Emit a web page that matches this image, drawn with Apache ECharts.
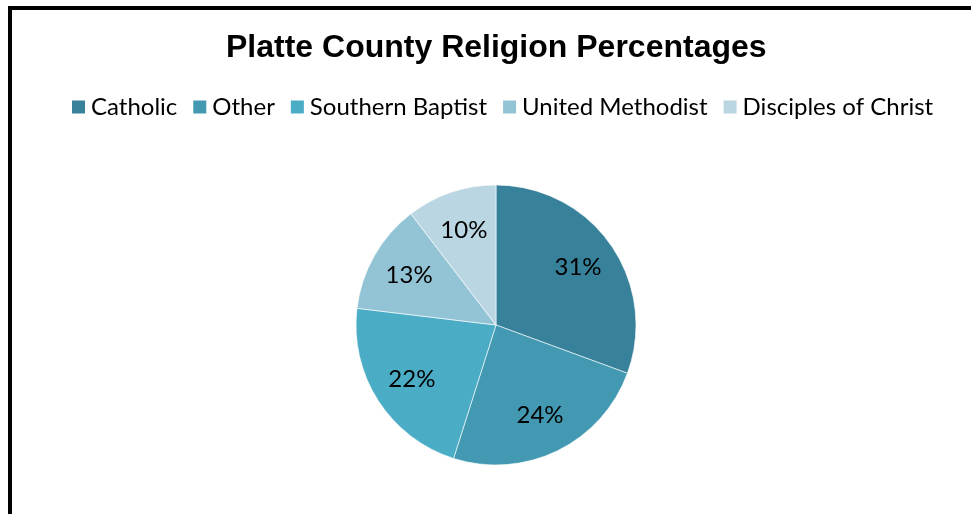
<!DOCTYPE html>
<html>
<head>
<meta charset="utf-8">
<script src="https://cdn.jsdelivr.net/npm/echarts@6/dist/echarts.min.js"></script>
<style>
html,body{margin:0;padding:0;background:#fff;}
#chart{width:971px;height:514px;}
</style>
</head>
<body>
<div id="chart"></div>
<script>
var categories = ['Catholic', 'Other', 'Southern Baptist', 'United Methodist', 'Disciples of Christ'];
var values = [30.6, 24.3, 22.0, 12.7, 10.4];
var colors = ['#37819A', '#4299B1', '#4BACC6', '#93C4D6', '#BAD6E3'];

var chart = echarts.init(document.getElementById('chart'));
var pieData = categories.map(function (c, i) {
  return { name: c, value: values[i], itemStyle: { color: colors[i] } };
});
var labelData = categories.map(function (c, i) {
  return { name: c, value: values[i] };
});
chart.setOption({
  animation: false,
  backgroundColor: '#fff',
  title: {
    text: 'Platte County Religion Percentages',
    left: 221,
    top: 27,
    textStyle: { fontFamily: 'Liberation Sans', fontWeight: 'bold', fontSize: 32, color: '#000' }
  },
  legend: {
    data: categories,
    left: 65,
    top: 90,
    icon: 'rect',
    itemWidth: 15,
    itemHeight: 15,
    itemGap: 14,
    textStyle: { fontFamily: 'Lato', fontSize: 24, color: '#000', padding: [0, 0, 0, 0] }
  },
  graphic: [
    { type: 'rect', shape: { x: 8, y: 6, width: 4, height: 508 }, style: { fill: '#000' } },
    { type: 'rect', shape: { x: 8, y: 6, width: 963, height: 4 }, style: { fill: '#000' } }
  ],
  series: [
    {
      type: 'pie',
      center: [496, 325],
      radius: [0, 140],
      startAngle: 90,
      clockwise: true,
      silent: true,
      label: { show: false },
      labelLine: { show: false },
      itemStyle: { borderColor: '#fff', borderWidth: 0.6 },
      data: pieData
    },
    {
      type: 'pie',
      center: [496, 325],
      radius: [54, 140],
      startAngle: 90,
      clockwise: true,
      silent: true,
      legendHoverLink: false,
      itemStyle: { color: 'rgba(0,0,0,0)' },
      label: {
        show: true,
        position: 'inside',
        fontFamily: 'Lato',
        fontSize: 24,
        color: '#000',
        formatter: function (p) { return Math.round(p.percent) + '%'; }
      },
      labelLine: { show: false },
      data: labelData
    }
  ]
});
</script>
</body>
</html>
